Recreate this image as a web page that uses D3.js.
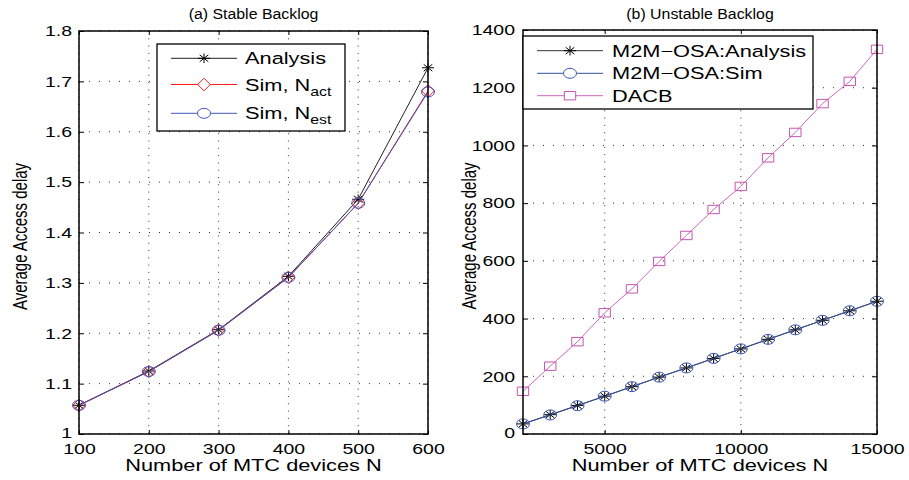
<!DOCTYPE html>
<html><head><meta charset="utf-8">
<script src="https://cdn.jsdelivr.net/npm/d3@7"></script>
<style>
body{margin:0;background:#fff;}
svg{display:block;}
text{font-family:"Liberation Sans",Arial,Helvetica,sans-serif;fill:#000;}
</style></head><body>
<svg id="c" width="909" height="480"></svg>
<script>
// ---------- data ----------
const leftN = [100, 200, 300, 400, 500, 600];
const leftAnalysis = [1.057, 1.125, 1.207, 1.313, 1.466, 1.727];
const leftSimAct   = [1.057, 1.124, 1.206, 1.311, 1.458, 1.681];
const leftSimEst   = [1.057, 1.124, 1.206, 1.311, 1.458, 1.679];
const leftXTicks = [100, 200, 300, 400, 500, 600];
const leftYTicks = [1, 1.1, 1.2, 1.3, 1.4, 1.5, 1.6, 1.7, 1.8];

const rightN = [2000, 3000, 4000, 5000, 6000, 7000, 8000, 9000, 10000, 11000, 12000, 13000, 14000, 15000];
const rightAnalysis = [35, 67, 99, 131, 164, 197, 229, 262, 295, 328, 361, 394, 427, 460];
const rightSim      = [35, 66, 98, 131, 164, 197, 229, 262, 295, 328, 361, 394, 427, 460];
const rightDACB     = [148, 235, 320, 420, 503, 598, 688, 778, 858, 957, 1045, 1145, 1222, 1333];
const rightXTicks = [5000, 10000, 15000];
const rightYTicks = [0, 200, 400, 600, 800, 1000, 1200, 1400];

const titles = ["(a) Stable Backlog", "(b) Unstable Backlog"];
const xLabelText = "Number of MTC devices N";
const yLabelText = "Average Access delay";

// ---------- helpers ----------
const SX = 1.32;
const svg = d3.select("#c");

function markerPath(m) {
  switch (m) {
    case "star": return "M-6,0H6M0,-4.8V4.8M-4.3,-3.4L4.3,3.4M-4.3,3.4L4.3,-3.4";
    case "circle": return "M-6.5,0A6.5,5 0 1,0 6.5,0A6.5,5 0 1,0 -6.5,0Z";
    case "diamond": return "M0,-6.3L6.3,0L0,6.3L-6.3,0Z";
    case "square": return "M-5.7,-4.2h11.4v8.4h-11.4Z";
  }
}

function stretch(sel, sx) {
  sel.each(function () {
    const t = d3.select(this);
    const x = +t.attr("x") || 0;
    t.attr("transform", `translate(${x},0) scale(${sx},1) translate(${-x},0)`);
  });
}

function label(g, txt, x, y, size, anchor, rot, sx) {
  const t = g.append("text")
    .attr("transform", `translate(${x},${y}) scale(${sx || SX},1)` + (rot ? ` rotate(${rot})` : ""))
    .attr("text-anchor", anchor).attr("font-size", size).text(txt);
  return t;
}

function drawPanel(o) {
  const g = svg.append("g");
  const x = d3.scaleLinear().domain(o.xDomain).range([o.x0, o.x1]);
  const y = d3.scaleLinear().domain(o.yDomain).range([o.y1, o.y0]);

  // grid
  g.append("g").selectAll("line").data(o.xTicks).join("line")
    .attr("x1", d => x(d)).attr("x2", d => x(d)).attr("y1", o.y0).attr("y2", o.y1)
    .attr("stroke", "#333").attr("stroke-width", 1).attr("stroke-dasharray", "1,6.3");
  g.append("g").selectAll("line").data(o.yTicks).join("line")
    .attr("y1", d => y(d)).attr("y2", d => y(d)).attr("x1", o.x0).attr("x2", o.x1)
    .attr("stroke", "#333").attr("stroke-width", 1).attr("stroke-dasharray", "1,9");

  // series
  o.series.forEach(s => {
    const pts = o.xs.map((xv, i) => [xv, s.values[i]]);
    g.append("path").datum(pts)
      .attr("d", d3.line().x(d => x(d[0])).y(d => y(d[1])))
      .attr("fill", "none").attr("stroke", s.line || s.color).attr("stroke-width", 1);
    g.append("g").selectAll("path").data(pts).join("path")
      .attr("transform", d => `translate(${x(d[0])},${y(d[1])})`)
      .attr("d", markerPath(s.marker))
      .attr("fill", "none").attr("stroke", s.color).attr("stroke-width", 1);
  });

  // axes
  const font = 15;
  const bx = g.append("g").attr("transform", `translate(0,${o.y1})`)
    .call(d3.axisBottom(x).tickValues(o.xTicks).tickSizeInner(-4).tickSizeOuter(0).tickPadding(9).tickFormat(d3.format("d")));
  const tx = g.append("g").attr("transform", `translate(0,${o.y0})`)
    .call(d3.axisTop(x).tickValues(o.xTicks).tickSizeInner(-4).tickSizeOuter(0).tickFormat(""));
  const ly = g.append("g").attr("transform", `translate(${o.x0},0)`)
    .call(d3.axisLeft(y).tickValues(o.yTicks).tickSizeInner(-5).tickSizeOuter(0).tickPadding(o.yPad).tickFormat(o.yFmt));
  const ry = g.append("g").attr("transform", `translate(${o.x1},0)`)
    .call(d3.axisRight(y).tickValues(o.yTicks).tickSizeInner(-5).tickSizeOuter(0).tickFormat(""));
  [bx, tx, ly, ry].forEach(a => {
    a.select(".domain").remove();
    a.selectAll("line").attr("stroke", "#000");
    a.selectAll("text").attr("font-size", font).attr("fill", "#000");
  });
  stretch(bx.selectAll("text"), 1.3);
  stretch(ly.selectAll("text"), 1.3);
  // nudge the lowest y label up a little so it does not touch the x labels
  ly.selectAll("text").filter(d => d === o.yDomain[0]).attr("dy", "0.2em");

  // box
  g.append("rect").attr("x", o.x0).attr("y", o.y0)
    .attr("width", o.x1 - o.x0).attr("height", o.y1 - o.y0)
    .attr("fill", "none").attr("stroke", "#000").attr("stroke-width", 1.5);

  // title & labels
  label(g, o.title, (o.x0 + o.x1) / 2, 19, 15, "middle", 0, 1.06);
  label(g, xLabelText, (o.x0 + o.x1) / 2, 471, 16.5, "middle");
  label(g, yLabelText, o.yLabelX, (o.y0 + o.y1) / 2 + 4, 15, "middle", -90, 1.3);

  // legend
  const L = o.legend;
  const lg = g.append("g");
  lg.append("rect").attr("x", L.x0).attr("y", L.y0).attr("width", L.x1 - L.x0).attr("height", L.y1 - L.y0)
    .attr("fill", "#fff").attr("stroke", "#000").attr("stroke-width", 1.3);
  o.series.forEach((s, i) => {
    const ry0 = L.rows[i];
    lg.append("line").attr("x1", L.lx0).attr("x2", L.lx1).attr("y1", ry0).attr("y2", ry0)
      .attr("stroke", s.line || s.color).attr("stroke-width", 1);
    lg.append("path").attr("transform", `translate(${(L.lx0 + L.lx1) / 2},${ry0})`)
      .attr("d", markerPath(s.marker)).attr("fill", "#fff").attr("stroke", s.color).attr("stroke-width", 1);
    const t = label(lg, "", L.tx, ry0 + 6, 16.5, "start");
    t.append("tspan").text(s.name);
    if (s.sub) t.append("tspan").attr("font-size", 12).attr("dy", 5).text(s.sub);
  });
}

drawPanel({
  x0: 79, x1: 428, y0: 31, y1: 434,
  xDomain: [100, 600], yDomain: [1, 1.8],
  xs: leftN, xTicks: leftXTicks, yTicks: leftYTicks,
  yFmt: d => String(+d.toFixed(1)), yPad: 7,
  title: titles[0], yLabelX: 27,
  series: [
    { name: "Analysis", values: leftAnalysis, color: "#000", line: "#222", marker: "star" },
    { name: "Sim, N", sub: "act", values: leftSimAct, color: "#ff1a1a", marker: "diamond" },
    { name: "Sim, N", sub: "est", values: leftSimEst, color: "#4055c0", marker: "circle" }
  ],
  legend: { x0: 157, x1: 345, y0: 44, y1: 131, rows: [58.3, 84.5, 113.3], lx0: 171, lx1: 237, tx: 245 }
});

drawPanel({
  x0: 523, x1: 877, y0: 30, y1: 434,
  xDomain: [2000, 15000], yDomain: [0, 1400],
  xs: rightN, xTicks: rightXTicks, yTicks: rightYTicks,
  yFmt: d3.format("d"), yPad: 8,
  title: titles[1], yLabelX: 476,
  series: [
    { name: "M2M\u2212OSA:Analysis", values: rightAnalysis, color: "#000", line: "#333", marker: "star" },
    { name: "M2M\u2212OSA:Sim", values: rightSim, color: "#3a55b8", line: "#34509f", marker: "circle" },
    { name: "DACB", values: rightDACB, color: "#c455b0", line: "#cc66bb", marker: "square" }
  ],
  legend: { x0: 523, x1: 813, y0: 36, y1: 109, rows: [50.7, 73.3, 95.7], lx0: 537, lx1: 603, tx: 612 }
});
</script>
</body></html>
